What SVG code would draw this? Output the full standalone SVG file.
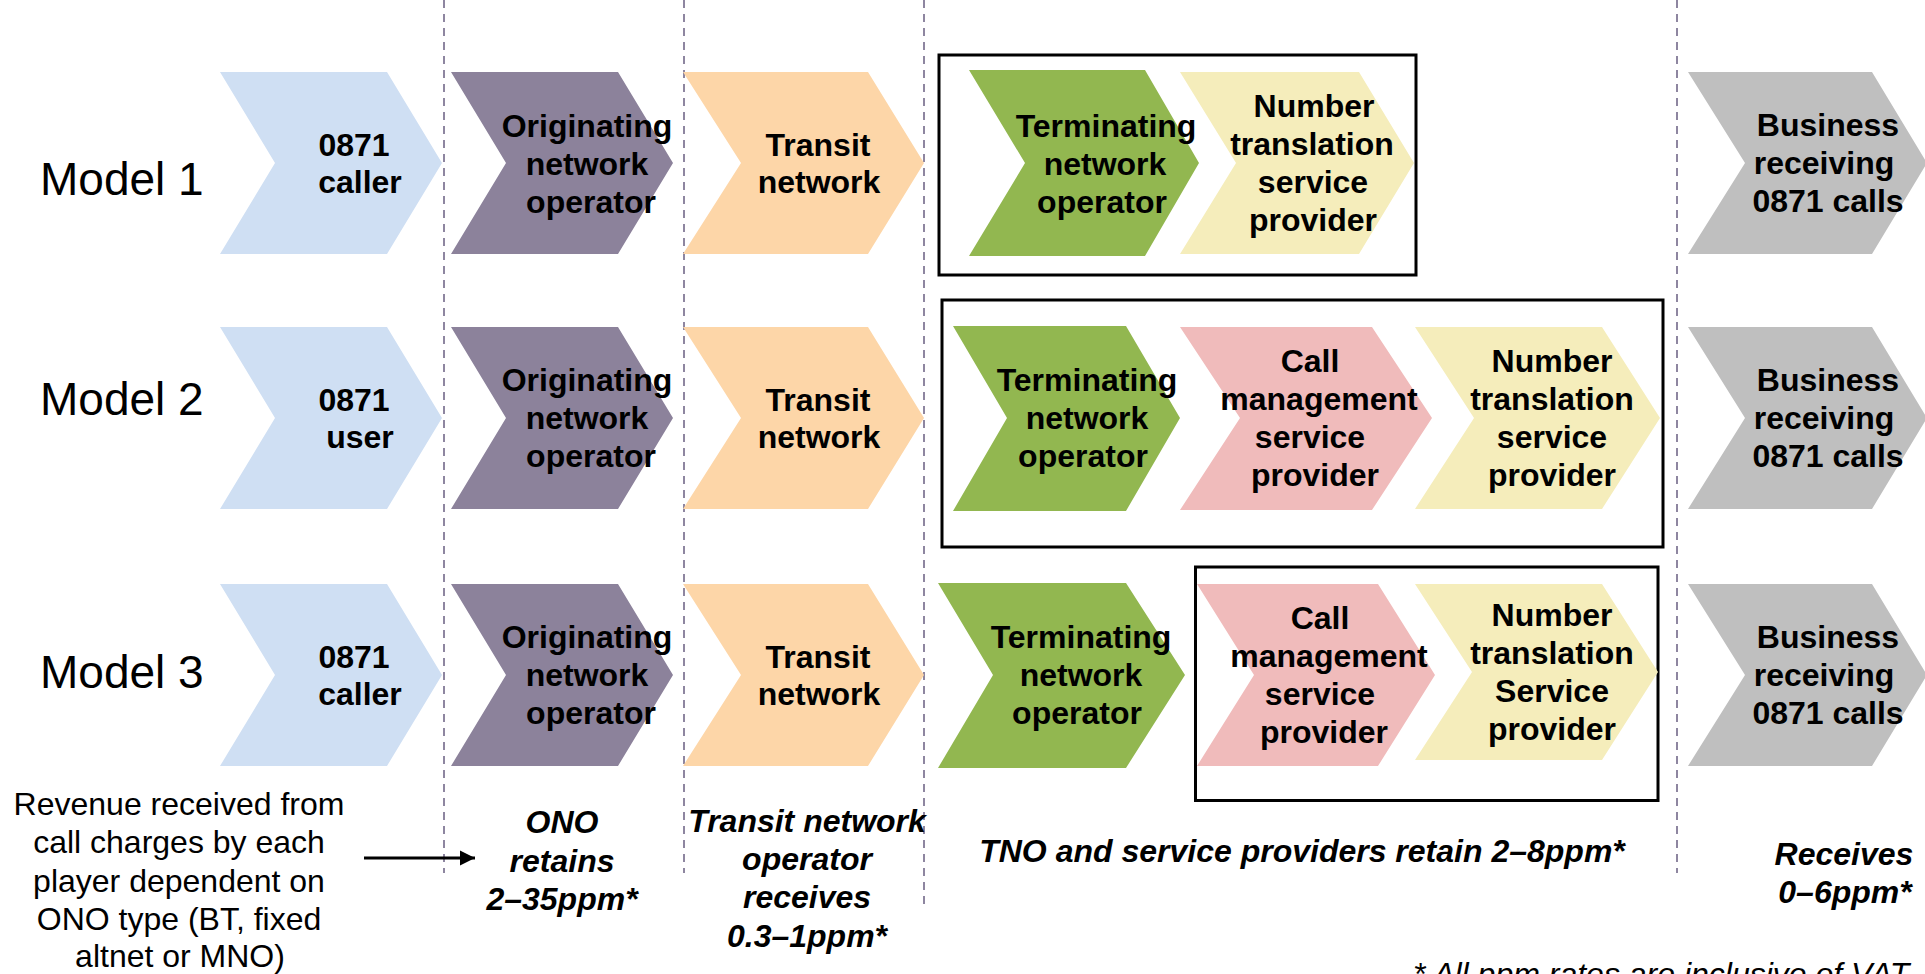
<svg xmlns="http://www.w3.org/2000/svg" width="1925" height="974" viewBox="0 0 1925 974">
<defs>
<style>
.lbl{font-family:"Liberation Sans",Arial,sans-serif;font-weight:bold;font-size:32px;fill:#000;text-anchor:middle}
.model{font-family:"Liberation Sans",Arial,sans-serif;font-size:46px;fill:#000}
.note{font-family:"Liberation Sans",Arial,sans-serif;font-size:32px;fill:#000;text-anchor:middle}
.bi{font-family:"Liberation Sans",Arial,sans-serif;font-weight:bold;font-style:italic;font-size:32px;fill:#000;text-anchor:middle}
.foot{font-family:"Liberation Sans",Arial,sans-serif;font-style:italic;font-size:32px;fill:#000}
.dash{stroke:#8E86A0;stroke-width:2;stroke-dasharray:8 6;fill:none}
.box{fill:none;stroke:#000;stroke-width:3}
.blue{fill:#CFDFF3}.purple{fill:#8C829B}.peach{fill:#FDD6A8}.green{fill:#92B750}.yellow{fill:#F5EDBB}.pink{fill:#F0BBBB}.gray{fill:#BFBFBF}
</style>
<marker id="ah" viewBox="0 0 10 10" refX="10" refY="5" markerWidth="5" markerHeight="6.7" markerUnits="strokeWidth" orient="auto">
<path d="M0,0 L10,5 L0,10 Z" fill="#000"/>
</marker>
</defs>
<rect width="1925" height="974" fill="#fff"/>

<g id="dividers">
<line class="dash" x1="444" y1="0" x2="444" y2="873"/>
<line class="dash" x1="684" y1="0" x2="684" y2="873"/>
<line class="dash" x1="924" y1="0" x2="924" y2="905"/>
<line class="dash" x1="1677" y1="0" x2="1677" y2="873"/>
</g>

<g id="groups">
<rect class="box" x="939" y="55" width="477" height="220"/>
<rect class="box" x="942" y="300" width="721" height="247"/>
<rect class="box" x="1195.5" y="567" width="462.5" height="233.5"/>
</g>

<g id="labels">
<text class="model" x="40" y="195">Model 1</text>
<text class="model" x="40" y="415">Model 2</text>
<text class="model" x="40" y="688">Model 3</text>
</g>

<!-- Row 1 -->
<g id="r1-caller"><polygon class="blue" points="220,72 387,72 442,163 387,254 220,254 275,163"/>
<text class="lbl" x="354" y="156">0871</text><text class="lbl" x="360" y="193">caller</text></g>
<g id="r1-ono"><polygon class="purple" points="451,72 618,72 673,163 618,254 451,254 506,163"/>
<text class="lbl" x="587" y="137">Originating</text><text class="lbl" x="587" y="175">network</text><text class="lbl" x="591" y="213">operator</text></g>
<g id="r1-transit"><polygon class="peach" points="683,72 868,72 924,163 868,254 683,254 741,163"/>
<text class="lbl" x="818" y="156">Transit</text><text class="lbl" x="819" y="193">network</text></g>
<g id="r1-tno"><polygon class="green" points="969,70 1145,70 1199,163 1145,256 969,256 1025,163"/>
<text class="lbl" x="1106" y="137">Terminating</text><text class="lbl" x="1105" y="175">network</text><text class="lbl" x="1102" y="213">operator</text></g>
<g id="r1-nts"><polygon class="yellow" points="1180,72 1359,72 1414,163 1359,254 1180,254 1236,163"/>
<text class="lbl" x="1314" y="117">Number</text><text class="lbl" x="1312" y="155">translation</text><text class="lbl" x="1313" y="193">service</text><text class="lbl" x="1313" y="231">provider</text></g>
<g id="r1-business"><polygon class="gray" points="1688,72 1872,72 1927,163 1872,254 1688,254 1745,163"/>
<text class="lbl" x="1828" y="136">Business</text><text class="lbl" x="1824" y="174">receiving</text><text class="lbl" x="1828" y="212">0871 calls</text></g>

<!-- Row 2 -->
<g id="r2-user"><polygon class="blue" points="220,327 387,327 442,418 387,509 220,509 275,418"/>
<text class="lbl" x="354" y="411">0871</text><text class="lbl" x="360" y="448">user</text></g>
<g id="r2-ono"><polygon class="purple" points="451,327 618,327 673,418 618,509 451,509 506,418"/>
<text class="lbl" x="587" y="391">Originating</text><text class="lbl" x="587" y="429">network</text><text class="lbl" x="591" y="467">operator</text></g>
<g id="r2-transit"><polygon class="peach" points="683,327 868,327 924,418 868,509 683,509 741,418"/>
<text class="lbl" x="818" y="411">Transit</text><text class="lbl" x="819" y="448">network</text></g>
<g id="r2-tno"><polygon class="green" points="953,326 1126,326 1180,418 1126,511 953,511 1007,418"/>
<text class="lbl" x="1087" y="391">Terminating</text><text class="lbl" x="1087" y="429">network</text><text class="lbl" x="1083" y="467">operator</text></g>
<g id="r2-cms"><polygon class="pink" points="1180,327 1372,327 1432,418 1372,510 1180,510 1240,418"/>
<text class="lbl" x="1310" y="372">Call</text><text class="lbl" x="1319" y="410">management</text><text class="lbl" x="1310" y="448">service</text><text class="lbl" x="1315" y="486">provider</text></g>
<g id="r2-nts"><polygon class="yellow" points="1415,327 1602,327 1660,418 1602,509 1415,509 1474,418"/>
<text class="lbl" x="1552" y="372">Number</text><text class="lbl" x="1552" y="410">translation</text><text class="lbl" x="1552" y="448">service</text><text class="lbl" x="1552" y="486">provider</text></g>
<g id="r2-business"><polygon class="gray" points="1688,327 1872,327 1927,418 1872,509 1688,509 1745,418"/>
<text class="lbl" x="1828" y="391">Business</text><text class="lbl" x="1824" y="429">receiving</text><text class="lbl" x="1828" y="467">0871 calls</text></g>

<!-- Row 3 -->
<g id="r3-caller"><polygon class="blue" points="220,584 387,584 442,675 387,766 220,766 275,675"/>
<text class="lbl" x="354" y="668">0871</text><text class="lbl" x="360" y="705">caller</text></g>
<g id="r3-ono"><polygon class="purple" points="451,584 618,584 673,675 618,766 451,766 506,675"/>
<text class="lbl" x="587" y="648">Originating</text><text class="lbl" x="587" y="686">network</text><text class="lbl" x="591" y="724">operator</text></g>
<g id="r3-transit"><polygon class="peach" points="683,584 868,584 924,675 868,766 683,766 741,675"/>
<text class="lbl" x="818" y="668">Transit</text><text class="lbl" x="819" y="705">network</text></g>
<g id="r3-tno"><polygon class="green" points="938,583 1126,583 1185,675 1126,768 938,768 993,675"/>
<text class="lbl" x="1081" y="648">Terminating</text><text class="lbl" x="1081" y="686">network</text><text class="lbl" x="1077" y="724">operator</text></g>
<g id="r3-cms"><polygon class="pink" points="1197,584 1378,584 1435,675 1378,766 1197,766 1254,675"/>
<text class="lbl" x="1320" y="629">Call</text><text class="lbl" x="1329" y="667">management</text><text class="lbl" x="1320" y="705">service</text><text class="lbl" x="1324" y="743">provider</text></g>
<g id="r3-nts"><polygon class="yellow" points="1415,584 1602,584 1658,672 1602,760 1415,760 1472,672"/>
<text class="lbl" x="1552" y="626">Number</text><text class="lbl" x="1552" y="664">translation</text><text class="lbl" x="1552" y="702">Service</text><text class="lbl" x="1552" y="740">provider</text></g>
<g id="r3-business"><polygon class="gray" points="1688,584 1872,584 1927,675 1872,766 1688,766 1745,675"/>
<text class="lbl" x="1828" y="648">Business</text><text class="lbl" x="1824" y="686">receiving</text><text class="lbl" x="1828" y="724">0871 calls</text></g>

<g id="connectors">
<line x1="364" y1="858" x2="475" y2="858" stroke="#000" stroke-width="3" marker-end="url(#ah)"/>
</g>

<g id="revenue-note">
<text class="note" x="179" y="815">Revenue received from</text>
<text class="note" x="179" y="853">call charges by each</text>
<text class="note" x="179" y="892">player dependent on</text>
<text class="note" x="179" y="930">ONO type (BT, fixed</text>
<text class="note" x="180" y="967">altnet or MNO)</text>
</g>

<g id="rates">
<text class="bi" x="562" y="833">ONO</text>
<text class="bi" x="562" y="872">retains</text>
<text class="bi" x="562" y="910">2–35ppm*</text>
<text class="bi" x="807" y="832">Transit network</text>
<text class="bi" x="807" y="870">operator</text>
<text class="bi" x="807" y="908">receives</text>
<text class="bi" x="807" y="947">0.3–1ppm*</text>
<text class="bi" x="1302" y="862">TNO and service providers retain 2–8ppm*</text>
<text class="bi" x="1844" y="865">Receives</text>
<text class="bi" x="1845" y="903">0–6ppm*</text>
</g>

<text class="foot" x="1413" y="985">* All ppm rates are inclusive of VAT</text>
</svg>
